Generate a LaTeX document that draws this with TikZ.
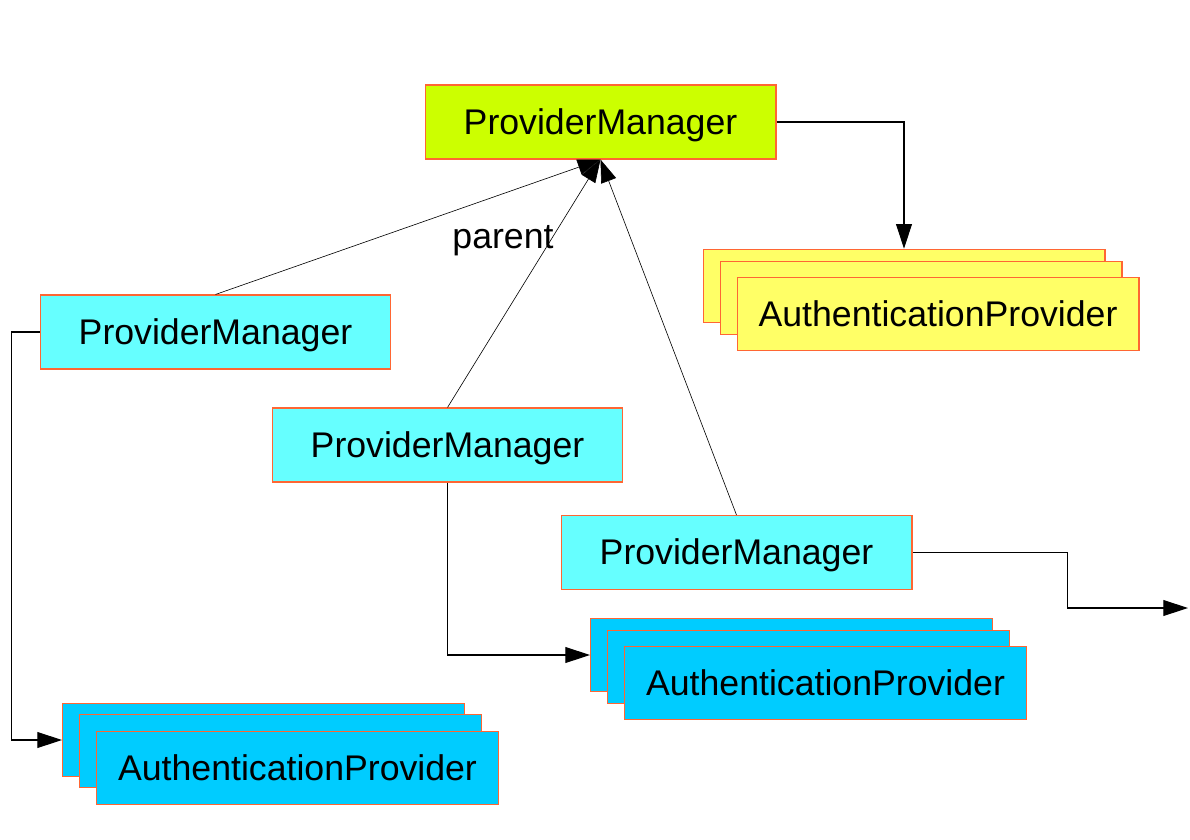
\documentclass[tikz,border=0pt]{standalone}
\usepackage{fontspec}
\setmainfont{Liberation Sans}
\usetikzlibrary{arrows.meta}

\definecolor{edgered}{RGB}{255,102,51}
\definecolor{mgrlime}{RGB}{204,255,0}
\definecolor{mgrcyan}{RGB}{102,255,255}
\definecolor{provcyan}{RGB}{0,204,255}
\definecolor{provyellow}{RGB}{255,255,102}

\begin{document}
\begin{tikzpicture}[x=0.02cm, y=-0.02cm,
        box/.style={draw=edgered, line width=0.6pt, inner sep=0pt,
            text height=14.6pt, text depth=0.8pt,
            font=\fontsize{20.3}{24}\selectfont},
        mgr/.style={box, minimum width=7.02cm, minimum height=1.48cm},
        prov/.style={box, minimum width=8.04cm, minimum height=1.47cm},
        link/.style={-{Triangle[length=14pt,width=9pt]}, line width=0.6pt},
        parentlink/.style={-{Triangle[length=13pt,width=9pt]}, line width=0.35pt}]
        \useasboundingbox (0,0) rectangle (1190,839);

        % Managers
        \node[mgr, fill=mgrlime] (top) at (600.5,122) {ProviderManager};
        \node[mgr, fill=mgrcyan] (pmA) at (215.5,332) {ProviderManager};
        \node[mgr, fill=mgrcyan] (pmB) at (447.5,445) {ProviderManager};
        \node[mgr, fill=mgrcyan] (pmC) at (736.5,552.5) {ProviderManager};

        % Providers of the parent
        \node[prov, fill=provyellow] (ypA) at (904,286) {};
        \node[prov, fill=provyellow] (ypB) at (921,298) {};
        \node[prov, fill=provyellow] (ypC) at (938,314) {AuthenticationProvider};

        % Providers of pmB
        \node[prov, fill=provcyan] (cpA) at (791.5,655) {};
        \node[prov, fill=provcyan] (cpB) at (808.5,667) {};
        \node[prov, fill=provcyan] (cpC) at (825.5,683) {AuthenticationProvider};

        % Providers of pmA
        \node[prov, fill=provcyan] (bpA) at (263.5,740) {};
        \node[prov, fill=provcyan] (bpB) at (280.5,751) {};
        \node[prov, fill=provcyan] (bpC) at (297.5,768) {AuthenticationProvider};

        % Parent links
        \draw[parentlink] (pmA.north) -- (top.south);
        \draw[parentlink] (pmB.north) -- (top.south);
        \draw[parentlink] (pmC.north) -- (top.south);
        \node[anchor=base, inner sep=0pt, font=\fontsize{20.3}{24}\selectfont] (parent) at (503,248) {parent};

        % Links to providers
        \coordinate (out) at (1188,608);
        \draw[link] (top.east) -| (ypA.north);
        \draw[link] (pmB.south) |- (cpA.west);
        \draw[link] (pmA.west) -- ++(-28,0) |- (bpA.west);
        \draw[link] (pmC.east) -- ++(155,0) |- (out);
    \end{tikzpicture}
\end{document}
